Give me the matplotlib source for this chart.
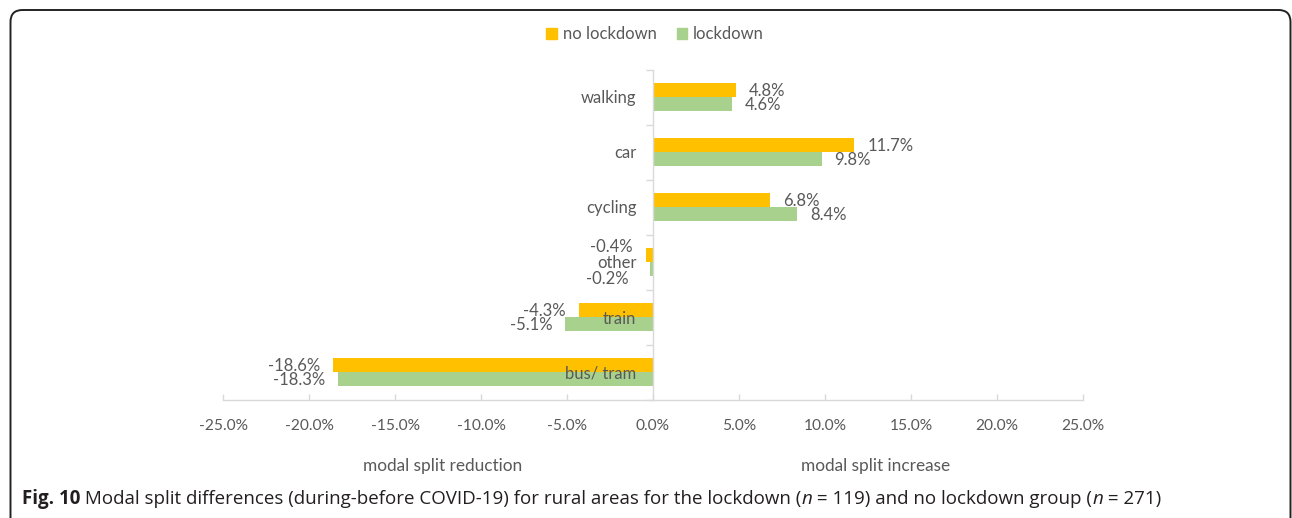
import matplotlib
matplotlib.use("Agg")
import matplotlib.pyplot as plt
from matplotlib.patches import FancyBboxPatch, Rectangle
from matplotlib.transforms import IdentityTransform
import numpy as np

# ---------------- data ----------------
categories = ["walking", "car", "cycling", "other", "train", "bus/ tram"]
no_lockdown = [4.8, 11.7, 6.8, -0.4, -4.3, -18.6]
lockdown = [4.6, 9.8, 8.4, -0.2, -5.1, -18.3]
series_names = ["no lockdown", "lockdown"]
x_tick_values = [-25, -20, -15, -10, -5, 0, 5, 10, 15, 20, 25]
axis_notes = ["modal split reduction", "modal split increase"]

# ---------------- style ----------------
W, H, DPI = 1292, 518, 100
ORANGE = "#FFC000"
GREEN = "#A9D18E"
TXT = "#595959"
GRID = "#D9D9D9"
FONT = "Lato"
CAP_FONT = "Open Sans"
plt.rcParams["font.family"] = [FONT, "DejaVu Sans"]

fig = plt.figure(figsize=(W / DPI, H / DPI), dpi=DPI)
fig.patch.set_facecolor("white")

ax_left, ax_right, ax_top, ax_bottom = 223, 1083, 69.5, 399.5
ax = fig.add_axes([ax_left / W, 1 - ax_bottom / H,
                   (ax_right - ax_left) / W, (ax_bottom - ax_top) / H])

y = np.arange(len(categories))
h = 0.255
ax.barh(y - h / 2, no_lockdown, height=h, color=ORANGE, zorder=1)
ax.barh(y + h / 2, lockdown, height=h, color=GREEN, zorder=1)
ax.set_xlim(-25, 25)
ax.set_ylim(len(categories) - 0.5, -0.5)

# spines
for s in ("top", "right"):
    ax.spines[s].set_visible(False)
ax.spines["left"].set_position(("data", 0))
ax.spines["left"].set_color(GRID)
ax.spines["bottom"].set_color(GRID)
ax.spines["left"].set_linewidth(1.0)
ax.spines["bottom"].set_linewidth(1.0)

# x ticks
ax.set_xticks(x_tick_values)
ax.set_xticklabels([f"{v:.1f}%" for v in x_tick_values])
ax.tick_params(axis="x", direction="in", length=4, width=1.0, color=GRID,
               pad=14, labelsize=11.2, labelcolor=TXT)

# y ticks: boundaries (major, no label) and categories (minor, labels)
ax.set_yticks(np.arange(-0.5, len(categories), 1.0))
ax.set_yticklabels([])
ax.tick_params(axis="y", which="major", direction="out", length=5, width=1.0,
               color=GRID)
ax.set_yticks(y, minor=True)
ax.set_yticklabels(categories, minor=True)
ax.tick_params(axis="y", which="minor", length=0, pad=12, labelsize=12,
               labelcolor=TXT)

# data labels
px = 0.72  # points per pixel
special = {("no", 3): (0, 9), ("lo", 3): (-8, -9)}
for key, vals, off in (("no", no_lockdown, -h / 2), ("lo", lockdown, h / 2)):
    for i, v in enumerate(vals):
        dx, dy = special.get((key, i), (0, 0))
        sign = 1 if v >= 0 else -1
        ax.annotate(f"{v:.1f}%", xy=(v, i + off),
                    xytext=((sign * 13 + dx) * px, (-1 + dy) * px),
                    textcoords="offset points",
                    ha="left" if v >= 0 else "right", va="center",
                    fontsize=12, color=TXT, zorder=5)

# legend
handles = [Rectangle((0, 0), 1, 1, color=ORANGE), Rectangle((0, 0), 1, 1, color=GREEN)]
fig.legend(handles, series_names, loc="center", bbox_to_anchor=(655 / W, 1 - 34 / H),
           ncol=2, frameon=False, fontsize=12, handlelength=0.62, handleheight=0.62,
           handletextpad=0.35, columnspacing=1.2, labelcolor=TXT, borderaxespad=0)

# notes under axis
fig.text(443 / W, 1 - 466 / H, axis_notes[0], ha="center", va="center",
         fontsize=12.4, color=TXT)
fig.text(876 / W, 1 - 466 / H, axis_notes[1], ha="center", va="center",
         fontsize=12.4, color=TXT)

# border (pixel coordinates)
box = FancyBboxPatch((10.5, -30), 1280, 538, boxstyle="round,pad=0,rounding_size=12",
                     transform=IdentityTransform(), fill=False, edgecolor="#222222",
                     linewidth=1.4, figure=fig)
fig.patches.append(box)

# caption
renderer = fig.canvas.get_renderer()
pieces = [("Fig. 10", "bold", "normal"),
          (" Modal split differences (during-before COVID-19) for rural areas for the lockdown (", "normal", "normal"),
          ("n", "normal", "italic"),
          (" = 119) and no lockdown group (", "normal", "normal"),
          ("n", "normal", "italic"),
          (" = 271)", "normal", "normal")]
x = 22.0
cy = H - 499
for txt, wt, st in pieces:
    t = fig.text(x / W, cy / H, txt, ha="left", va="center", fontsize=13.5,
                 family=[CAP_FONT, "DejaVu Sans"], weight=wt, style=st,
                 color="#231F20")
    bb = t.get_window_extent(renderer=renderer)
    x += bb.width

fig.savefig("out.png", dpi=DPI)
